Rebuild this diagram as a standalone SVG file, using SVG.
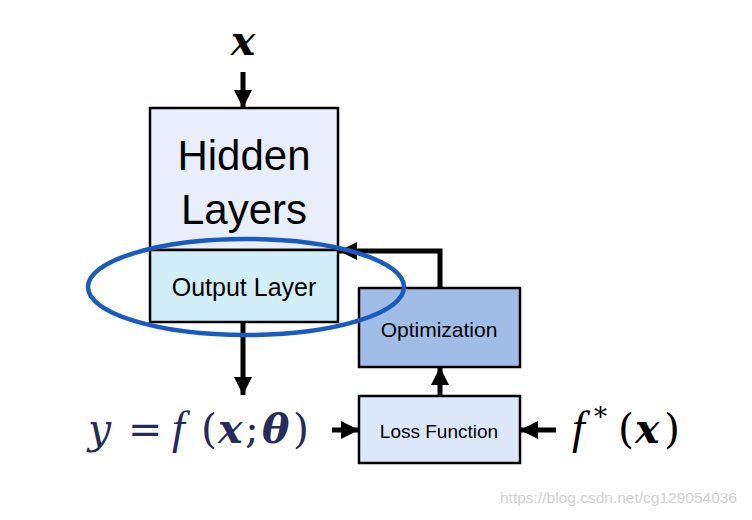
<svg xmlns="http://www.w3.org/2000/svg" width="752" height="520" viewBox="0 0 752 520">
<style>
.box{stroke:#000;stroke-width:2.5}
.lbl{font-family:"Liberation Sans",Arial,sans-serif;fill:#000;text-anchor:middle}
.conn{stroke:#000;stroke-width:5;fill:none}
.math{font-family:"DejaVu Serif","Liberation Serif",serif;font-size:41px}
.it{font-style:italic}
.bi{font-style:italic;font-weight:bold}
.ff{font-family:"Liberation Serif",serif;font-style:italic;font-size:46px}
</style>
<defs>
<marker id="ah" markerUnits="userSpaceOnUse" markerWidth="18" markerHeight="18" refX="16" refY="8" orient="auto" viewBox="0 0 16 16">
<path d="M0,0 L16,8 L0,16 z" fill="#000"/>
</marker>
</defs>
<rect width="752" height="520" fill="#fff"/>
<g id="hidden-layers">
<rect class="box" x="150" y="108" width="188" height="142" fill="#e8eefb"/>
<text class="lbl" x="244" y="170" font-size="42">Hidden</text>
<text class="lbl" x="244" y="224" font-size="42">Layers</text>
</g>
<g id="output-layer">
<rect class="box" x="150" y="250" width="188" height="72" fill="#d2eef9"/>
<text class="lbl" x="244" y="296" font-size="25">Output Layer</text>
</g>
<g id="optimization">
<rect class="box" x="359" y="288" width="161" height="79" fill="#a0bde7"/>
<text class="lbl" x="439" y="337" font-size="21">Optimization</text>
</g>
<g id="loss-function">
<rect class="box" x="359" y="396" width="161" height="67" fill="#dce8f9"/>
<text class="lbl" x="439" y="438" font-size="19">Loss Function</text>
</g>
<g id="input-x">
<text class="math bi" x="243" y="55" font-size="33" text-anchor="middle" fill="#000">x</text>
</g>
<g id="output-y">
<text class="math" y="443" fill="#262b5c"><tspan class="it" x="88">y</tspan><tspan x="128">=</tspan><tspan class="ff" x="172">f</tspan><tspan x="201">(</tspan><tspan class="bi" x="218">x</tspan><tspan x="245">;</tspan><tspan class="bi" x="262">θ</tspan><tspan x="293">)</tspan></text>
</g>
<g id="target-f">
<text class="math" y="443" fill="#000"><tspan class="ff" x="572">f</tspan><tspan x="594" y="426" font-size="26">*</tspan><tspan x="618" y="443">(</tspan><tspan class="bi" x="635">x</tspan><tspan x="664">)</tspan></text>
</g>
<g id="connectors">
<line class="conn" x1="243" y1="72" x2="243" y2="108" marker-end="url(#ah)"/>
<line class="conn" x1="243" y1="322" x2="243" y2="395" marker-end="url(#ah)"/>
<line class="conn" x1="332" y1="430" x2="359" y2="430" marker-end="url(#ah)"/>
<line class="conn" x1="556" y1="430" x2="520" y2="430" marker-end="url(#ah)"/>
<line class="conn" x1="440" y1="396" x2="440" y2="367" marker-end="url(#ah)"/>
<polyline class="conn" points="440,288 440,251 339,251" marker-end="url(#ah)"/>
</g>
<g id="highlight">
<ellipse cx="246" cy="287" rx="158" ry="48" fill="none" stroke="#1a5bbf" stroke-width="4.5"/>
</g>
<text x="500" y="503" font-family="Liberation Sans,Arial,sans-serif" font-size="15.5" fill="#d2d2d2">https://blog.csdn.net/cg129054036</text>
</svg>
